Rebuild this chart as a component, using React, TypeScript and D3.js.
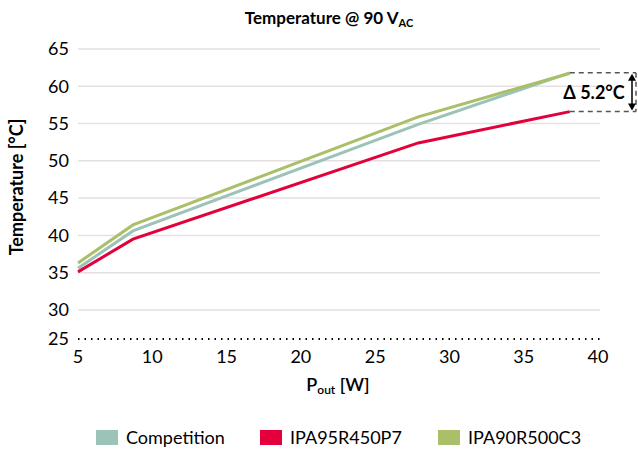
import React from "react";
import * as d3 from "d3";

const xTicks = [5, 10, 15, 20, 25, 30, 35, 40];
const yGridTicks = [30, 35, 40, 45, 50, 55, 60, 65];
const yBottomLabel = "25";
const pout = [5, 8.7, 27.9, 38.1];
const competition = [35.6, 40.6, 54.9, 61.8];
const ipa95 = [35.1, 39.5, 52.4, 56.6];
const ipa90 = [36.3, 41.4, 55.9, 61.75];
const seriesNames = ["Competition", "IPA95R450P7", "IPA90R500C3"];
const seriesColors = ["#9cc3b8", "#e4003a", "#a9bf68"];
const deltaLabel = "Δ 5.2°C";

const W = 638, H = 450;
const FONT = "Lato, sans-serif";

export default function App() {
  const x = d3.scaleLinear().domain([5, 40]).range([78, 598]);
  const y = d3.scaleLinear().domain([26.1, 65]).range([339, 49]);
  const line = d3.line<number>().x((_, i) => x(pout[i])).y((d) => y(d));
  const all = [competition, ipa95, ipa90];
  const order = [0, 1, 2];
  const topY = y(competition[competition.length - 1]);
  const botY = y(ipa95[ipa95.length - 1]);
  const endX = x(pout[pout.length - 1]);
  const boxR = 636;
  const arrowX = 632;
  const legendX = [96, 260, 438];
  return (
    <svg width={W} height={H} style={{ display: "block", position: "absolute", left: 0, top: 0 }} fontFamily={FONT}>
      <rect width={W} height={H} fill="#fff" />
      <text x={329} y={24} textAnchor="middle" fontSize={17} fontWeight="bold" fill="#000">
        Temperature @ 90 V<tspan fontSize={11} dy={3}>AC</tspan>
      </text>
      {yGridTicks.map((t) => (
        <g key={t}>
          <line x1={78} x2={600} y1={y(t)} y2={y(t)} stroke="#e5dfe2" strokeWidth={1.5} />
          <text x={69} y={y(t)} dy="0.35em" textAnchor="end" fontSize={18} fill="#000">{t}</text>
        </g>
      ))}
      <line x1={78} x2={600} y1={339} y2={339} stroke="#000" strokeWidth={2} strokeDasharray="1.5 5" />
      <text x={69} y={339} dy="0.35em" textAnchor="end" fontSize={18} fill="#000">{yBottomLabel}</text>
      {xTicks.map((t) => (
        <text key={t} x={x(t)} y={363} textAnchor="middle" fontSize={18} fill="#000">{t}</text>
      ))}
      <text x={338} y={391} textAnchor="middle" fontSize={18} fontWeight={600} fill="#000">
        P<tspan fontSize={12} dy={3}>out</tspan><tspan dy={-3}> [W]</tspan>
      </text>
      <text transform={`translate(23,187) rotate(-90)`} textAnchor="middle" fontSize={18} fontWeight="bold" fill="#000">
        Temperature [°C]
      </text>
      {order.map((i) => (
        <path key={i} d={line(all[i]) || ""} fill="none" stroke={seriesColors[i]} strokeWidth={3} />
      ))}
      <line x1={endX} x2={boxR} y1={topY} y2={topY} stroke="#555" strokeWidth={1.5} strokeDasharray="5 4" />
      <line x1={endX} x2={boxR} y1={botY} y2={botY} stroke="#555" strokeWidth={1.5} strokeDasharray="5 4" />
      <line x1={boxR} x2={boxR} y1={topY} y2={botY} stroke="#555" strokeWidth={1.5} strokeDasharray="5 4" />
      <line x1={arrowX} x2={arrowX} y1={topY + 6} y2={botY - 6} stroke="#000" strokeWidth={1.5} />
      <path d={`M${arrowX - 4},${topY + 8} L${arrowX},${topY + 1} L${arrowX + 4},${topY + 8} Z`} fill="#000" />
      <path d={`M${arrowX - 4},${botY - 8} L${arrowX},${botY - 1} L${arrowX + 4},${botY - 8} Z`} fill="#000" />
      <text x={594} y={(topY + botY) / 2} dy="0.35em" textAnchor="middle" fontSize={18} fontWeight="bold" fill="#000">{deltaLabel}</text>
      {seriesNames.map((n, i) => (
        <g key={n}>
          <rect x={legendX[i]} y={430} width={22} height={15} fill={seriesColors[i]} />
          <text x={legendX[i] + 30} y={438} dy="0.35em" fontSize={18} fill="#000">{n}</text>
        </g>
      ))}
    </svg>
  );
}
